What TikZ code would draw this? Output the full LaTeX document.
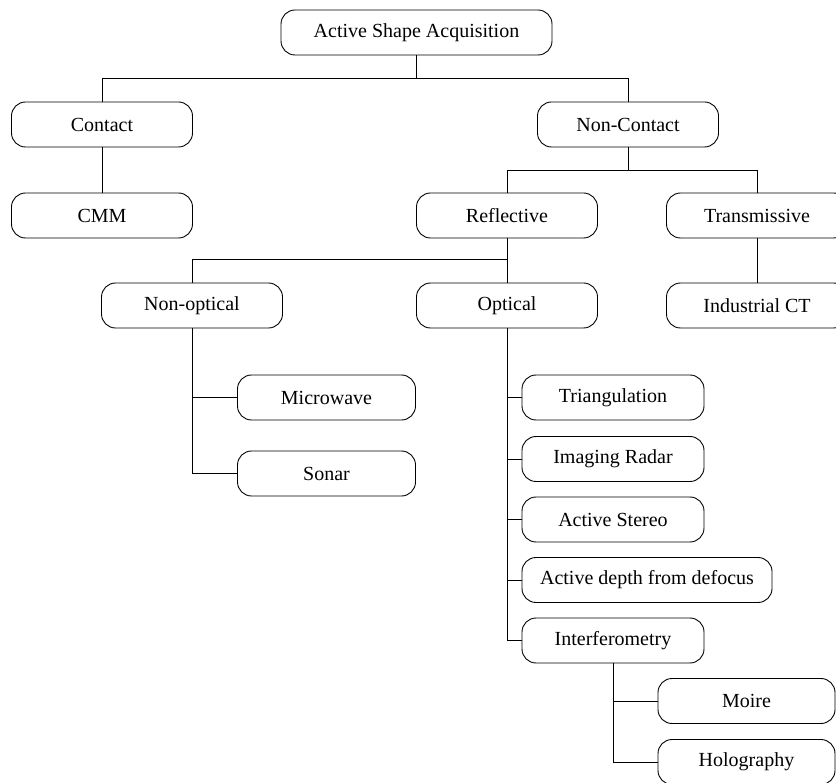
\documentclass[tikz,border=0pt]{standalone}
\usepackage{fontspec}
\setmainfont{Liberation Serif}
\begin{document}
\begin{tikzpicture}[x=1pt,y=-1pt,
  box/.style={draw, line width=0.9pt, rounded corners=14pt, minimum height=45pt, inner sep=0pt,
    font=\fontsize{20}{24}\selectfont, anchor=center},
  wbox/.style={box, minimum width=181pt},
  link/.style={line width=0.9pt}]
\clip (0,0) rectangle (836,783);
\node[box, minimum width=271pt] (asa) at (416.5,32.5) {Active Shape Acquisition};
\node[wbox] (contact) at (102,124.5) {Contact};
\node[wbox] (ncontact) at (628,124.5) {Non-Contact};
\node[wbox] (cmm) at (102,215.5) {CMM};
\node[wbox] (refl) at (507,215.5) {Reflective};
\node[wbox] (trans) at (757,215.5) {Transmissive};
\node[wbox] (nonopt) at (192,305.5) {Non-optical};
\node[wbox] (opt) at (507,305.5) {Optical};
\node[wbox] (ict) at (757,305.5) {Industrial CT};
\node[box, minimum width=178pt] (micro) at (326.5,397.5) {Microwave};
\node[box, minimum width=178pt] (sonar) at (326.5,473.5) {Sonar};
\node[box, minimum width=182pt] (tri) at (613,397.5) {Triangulation};
\node[box, minimum width=182pt] (radar) at (613,459) {Imaging Radar};
\node[box, minimum width=182pt] (stereo) at (613,519.5) {Active Stereo};
\node[box, minimum width=250pt] (depth) at (647,580) {Active depth from defocus};
\node[box, minimum width=182pt] (interf) at (613,640.5) {Interferometry};
\node[box, minimum width=177pt] (moire) at (746.5,701) {Moire};
\node[box, minimum width=177pt] (holo) at (746.5,762) {Holography};
\coordinate (j1) at (0,78);
\coordinate (j2) at (0,170);
\coordinate (j3) at (0,259);
\draw[link] (asa.south) -- (asa.south |- j1);
\draw[link] (contact.north) -- (contact.north |- j1) -- (ncontact.north |- j1) -- (ncontact.north);
\draw[link] (contact.south) -- (cmm.north);
\draw[link] (ncontact.south) -- (ncontact.south |- j2);
\draw[link] (refl.north) -- (refl.north |- j2) -- (trans.north |- j2) -- (trans.north);
\draw[link] (trans.south) -- (ict.north);
\draw[link] (refl.south) -- (refl.south |- j3);
\draw[link] (nonopt.north) -- (nonopt.north |- j3) -- (opt.north |- j3) -- (opt.north);
\draw[link] (nonopt.south) |- (sonar.west);
\draw[link] (nonopt.south |- micro.west) -- (micro.west);
\draw[link] (opt.south) |- (interf.west);
\draw[link] (opt.south |- tri.west) -- (tri.west);
\draw[link] (opt.south |- radar.west) -- (radar.west);
\draw[link] (opt.south |- stereo.west) -- (stereo.west);
\draw[link] (opt.south |- depth.west) -- (depth.west);
\draw[link] (interf.south) |- (holo.west);
\draw[link] (interf.south |- moire.west) -- (moire.west);
\end{tikzpicture}
\end{document}
